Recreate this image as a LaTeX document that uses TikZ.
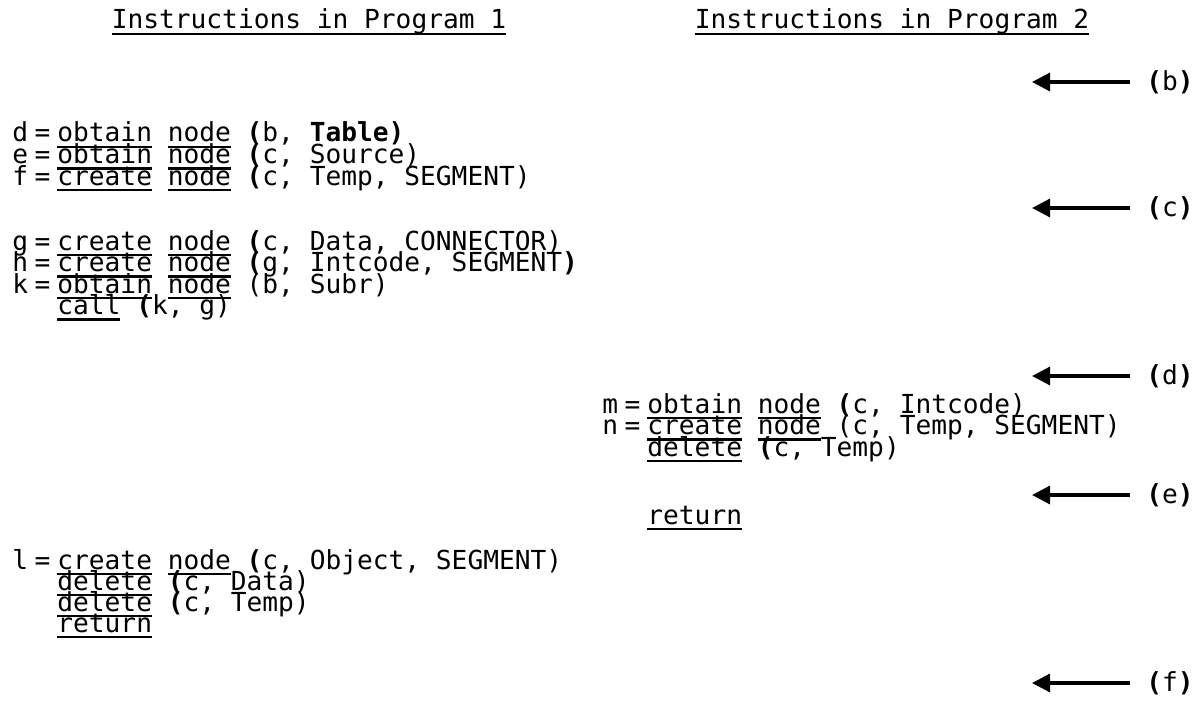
\documentclass[tikz,border=0pt]{standalone}
\usepackage{fontspec}
\newfontfamily\tw{DejaVu Sans Mono}
\usetikzlibrary{arrows.meta}
\newcommand\ul[1]{\setbox0\hbox{#1}\rlap{\rule[-3.2pt]{\wd0}{1.3pt}}\box0\relax}
\newcommand\asg[1]{\makebox[19pt][l]{#1\hfill=}\kern3.5pt}
\newcommand\sk{\hspace*{22.5pt}}
\newcommand\B[1]{\textbf{#1}}
\begin{document}
\begin{tikzpicture}[x=0.5pt,y=-0.5pt,
  code/.style={anchor=base west,inner sep=0pt,font=\tw\fontsize{13.1}{13}\selectfont},
  ttl/.style={anchor=base,inner sep=0pt,font=\tw\fontsize{13.1}{13}\selectfont},
  lbl/.style={anchor=west,inner sep=0pt,font=\tw\fontsize{13.1}{13}\selectfont},
  arr/.style={line width=1.6pt,-{Triangle[length=9pt,width=9pt]}}]
\useasboundingbox (0,0) rectangle (1202,700);
% titles
\node[ttl] (t1) at (309,29) {\ul{Instructions in Program 1}};
\node[ttl] (t2) at (892,29) {\ul{Instructions in Program 2}};
% program 1
\node[code] (ld) at (12,142) {\asg{d}\ul{obtain} \ul{node} \B{(}b, \B{Table)}};
\node[code] (le) at (12,163.5) {\asg{e}\ul{obtain} \ul{node} \B{(}c, Source)};
\node[code] (lf) at (12,185) {\asg{f}\ul{create} \ul{node} \B{(}c, Temp, SEGMENT)};
\node[code] (lg) at (12,250) {\asg{g}\ul{create} \ul{node} \B{(}c, Data, CONNECTOR)};
\node[code] (lh) at (12,271.5) {\asg{h}\ul{create} \ul{node} \B{(}g, Intcode, SEGMENT\B{)}};
\node[code] (lk) at (12,293) {\asg{k}\ul{obtain} \ul{node} (b, Subr)};
\node[code] (lc) at (12,314.5) {\sk\ul{call} \B{(}k, g)};
\node[code] (ll) at (12,569) {\asg{l}\ul{create} \ul{node} \B{(}c, Object, SEGMENT)};
\node[code] (ld1) at (12,590) {\sk\ul{delete} \B{(}c, Data)};
\node[code] (ld2) at (12,611) {\sk\ul{delete} \B{(}c, Temp)};
\node[code] (lr) at (12,632) {\sk\ul{return}};
% program 2
\node[code] (rm) at (602,413) {\asg{m}\ul{obtain} \ul{node} \B{(}c, Intcode)};
\node[code] (rn) at (602,434.5) {\asg{n}\ul{create} \ul{node} (c, Temp, SEGMENT)};
\node[code] (rd) at (602,456) {\sk\ul{delete} \B{(}c, Temp)};
\node[code] (rr) at (602,524) {\sk\ul{return}};
% labels and arrows
\node[lbl] (lb) at (1146,82) {\B{(}b\B{)}};
\node[lbl] (lcc) at (1146,208) {\B{(}c\B{)}};
\node[lbl] (ldd) at (1146,376) {\B{(}d\B{)}};
\node[lbl] (lee) at (1146,495) {\B{(}e\B{)}};
\node[lbl] (lff) at (1146,683) {\B{(}f\B{)}};
\coordinate (ab) at (1032,82);
\coordinate (ac) at (1032,208);
\coordinate (ad) at (1032,376);
\coordinate (ae) at (1032,495);
\coordinate (af) at (1032,683);
\draw[arr] ([xshift=-8pt]lb.west) -- (ab);
\draw[arr] ([xshift=-8pt]lcc.west) -- (ac);
\draw[arr] ([xshift=-8pt]ldd.west) -- (ad);
\draw[arr] ([xshift=-8pt]lee.west) -- (ae);
\draw[arr] ([xshift=-8pt]lff.west) -- (af);
\end{tikzpicture}
\end{document}
